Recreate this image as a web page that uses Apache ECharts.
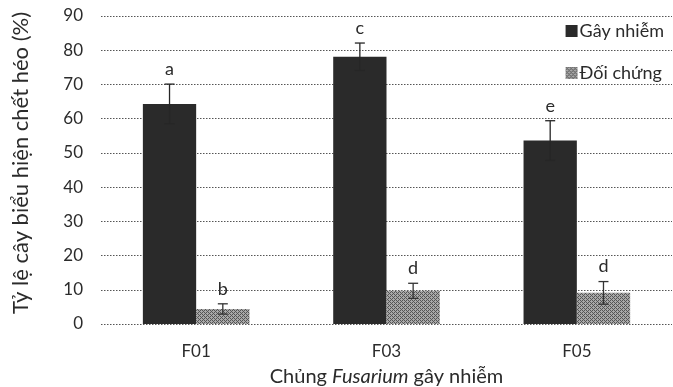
<!DOCTYPE html>
<html><head><meta charset="utf-8">
<script src="https://cdn.jsdelivr.net/npm/echarts@6/dist/echarts.min.js"></script>
<style>html,body{margin:0;padding:0;background:#fff}#c{width:673px;height:387px}</style>
</head><body><div id="c"></div>
<script>
const categories = ['F01', 'F03', 'F05'];
const infected = [64.3, 78.1, 53.6];
const infectedErr = [5.8, 4.0, 5.8];
const infectedLetters = ['a', 'c', 'e'];
const control = [4.4, 9.7, 9.1];
const controlErr = [1.5, 2.2, 3.3];
const controlLetters = ['b', 'd', 'd'];
const yTicks = [0, 10, 20, 30, 40, 50, 60, 70, 80, 90];

const FONT = 'Lato, "Open Sans", sans-serif';
const TXT = '#2b2b2b';
const BAR_RATIO = 0.28;

function hatch() {
  const c = document.createElement('canvas');
  c.width = 4; c.height = 4;
  const g = c.getContext('2d');
  g.fillStyle = '#a8a8a8'; g.fillRect(0, 0, 4, 4);
  g.fillStyle = '#555';
  g.fillRect(0, 0, 1, 1); g.fillRect(1, 1, 1, 1); g.fillRect(2, 2, 1, 1); g.fillRect(3, 3, 1, 1);
  g.fillRect(2, 0, 1, 1); g.fillRect(0, 2, 1, 1);
  return c;
}
const hatchPattern = { image: hatch(), repeat: 'repeat' };

function errSeries(vals, errs, letters, side, color) {
  return {
    type: 'custom',
    silent: true,
    z: 5,
    data: vals.map((v, i) => [i, v, errs[i]]),
    renderItem: function (params, api) {
      const i = api.value(0), v = api.value(1), e = api.value(2);
      const band = api.size([1, 0])[0];
      const bw = band * BAR_RATIO;
      const c = api.coord([i, v]);
      const x = c[0] + side * bw / 2;
      const top = api.coord([i, v + e])[1];
      const bot = api.coord([i, v - e])[1];
      const cap = 5;
      const st = { stroke: color, lineWidth: 1.3 };
      return {
        type: 'group',
        children: [
          { type: 'line', shape: { x1: x, y1: top, x2: x, y2: bot }, style: st },
          { type: 'line', shape: { x1: x - cap, y1: top, x2: x + cap, y2: top }, style: st },
          { type: 'line', shape: { x1: x - cap, y1: bot, x2: x + cap, y2: bot }, style: st },
          { type: 'text', style: { text: letters[i], x: x, y: top - 6, align: 'center', verticalAlign: 'bottom', font: '18px ' + FONT, fill: TXT } }
        ]
      };
    }
  };
}

const chart = echarts.init(document.getElementById('c'), null, { renderer: 'canvas' });
chart.setOption({
  animation: false,
  backgroundColor: '#ffffff',
  textStyle: { fontFamily: FONT },
  grid: { left: 101, right: 1, top: 16, bottom: 63, containLabel: false, outerBoundsMode: 'none' },
  legend: {
    orient: 'vertical', right: 4, top: 17, itemGap: 24,
    itemWidth: 12, itemHeight: 12, icon: 'rect',
    textStyle: { fontSize: 18, color: TXT, fontFamily: FONT, padding: [0, 0, 0, -3] },
    data: ['Gây nhiễm', 'Đối chứng']
  },
  xAxis: {
    type: 'category', data: categories,
    axisLine: { show: false }, axisTick: { show: false },
    axisLabel: { fontSize: 17, color: TXT, margin: 19 },
    name: '{n|Chủng }{i|Fusarium}{n| gây nhiễm}',
    nameLocation: 'middle', nameGap: 43,
    nameTextStyle: { rich: { n: { fontSize: 20, color: TXT, fontFamily: FONT }, i: { fontSize: 20, color: TXT, fontStyle: 'italic', fontFamily: FONT } } }
  },
  yAxis: {
    type: 'value', min: yTicks[0], max: yTicks[yTicks.length - 1], interval: 10,
    axisLine: { show: false }, axisTick: { show: false },
    axisLabel: { fontSize: 17, color: TXT, margin: 18 },
    splitLine: { lineStyle: { color: '#555', type: [1.5, 1.5], width: 1 } },
    name: 'Tỷ lệ cây biểu hiện chết héo (%)', nameLocation: 'middle', nameGap: 69,
    nameTextStyle: { fontSize: 22, color: TXT, padding: [0, 0, 0, 14] }
  },
  series: [
    { name: 'Gây nhiễm', type: 'bar', data: infected, barWidth: (BAR_RATIO * 100) + '%', barGap: '0%',
      itemStyle: { color: '#2a2a2a' } },
    { name: 'Đối chứng', type: 'bar', data: control, barWidth: (BAR_RATIO * 100) + '%', barGap: '0%',
      itemStyle: { color: hatchPattern } },
    errSeries(infected, infectedErr, infectedLetters, -1, '#262626'),
    errSeries(control, controlErr, controlLetters, 1, '#333')
  ]
});
</script></body></html>
